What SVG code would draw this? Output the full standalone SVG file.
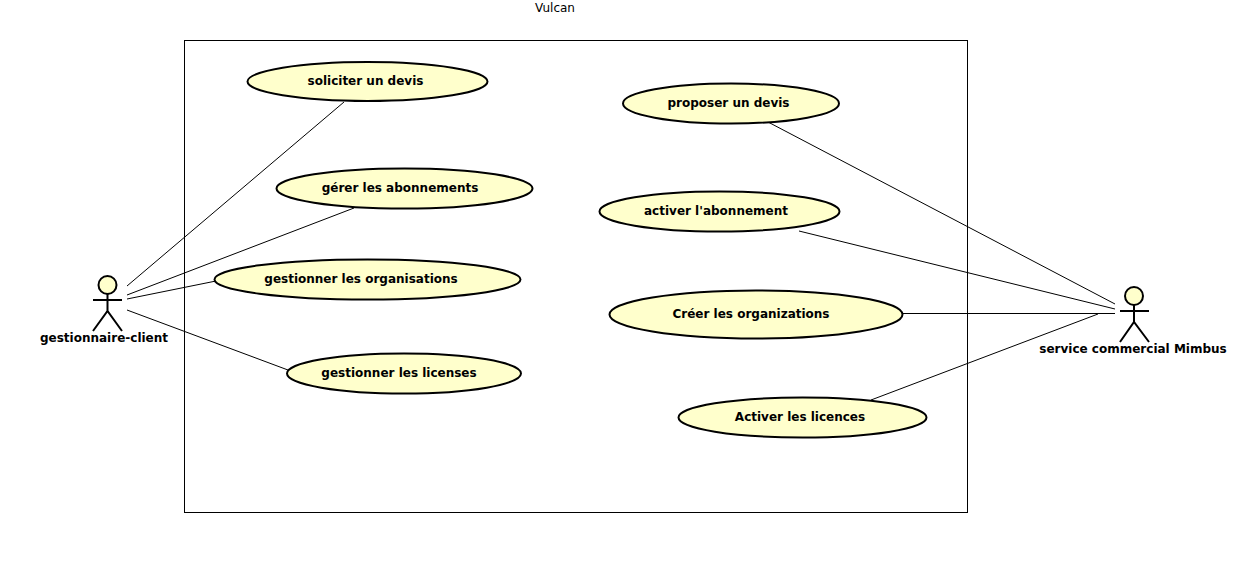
<svg xmlns="http://www.w3.org/2000/svg" width="1238" height="580" viewBox="0 0 1238 580">
<style>
text{font-family:"DejaVu Sans",sans-serif;font-size:12px;font-weight:bold;fill:#000;text-anchor:middle}
.uc{fill:#ffffcc;stroke:#000;stroke-width:2}
.head{fill:#ffffcc;stroke:#000;stroke-width:2}
.stick{fill:none;stroke:#000;stroke-width:2}
.c{stroke:#000;stroke-width:1;fill:none}
</style>
<rect width="1238" height="580" fill="#fff"/>
<g id="system">
<rect x="184.500" y="40.500" width="783" height="472" fill="#fff" stroke="#000" stroke-width="1"/>
<text x="555" y="12" style="font-weight:normal">Vulcan</text>
</g>
<g id="connectors">
<line class="c" x1="127" y1="286" x2="344" y2="102"/>
<line class="c" x1="127" y1="295" x2="354" y2="208"/>
<line class="c" x1="127" y1="299" x2="216" y2="281"/>
<line class="c" x1="127" y1="310" x2="288" y2="370"/>
<line class="c" x1="768" y1="122" x2="1115" y2="304"/>
<line class="c" x1="799" y1="231" x2="1115" y2="309"/>
<line class="c" x1="902" y1="313.500" x2="1115" y2="313.500"/>
<line class="c" x1="871" y1="400" x2="1098" y2="314"/>
</g>
<g id="actor-client">
<circle class="head" cx="107.500" cy="285" r="9"/>
<path class="stick" d="M107.500 294V311M93 300H122M93 331L107.500 311L122 331"/>
<text x="104" y="342">gestionnaire-client</text>
</g>
<g id="actor-commercial">
<circle class="head" cx="1134" cy="296" r="9"/>
<path class="stick" d="M1134 305V322M1120 311H1149M1120 342L1134 322L1149 342"/>
<text x="1133" y="353">service commercial Mimbus</text>
</g>
<g id="uc-solliciter"><ellipse class="uc" cx="367.500" cy="81.500" rx="120" ry="19.500"/><text x="365.500" y="85">soliciter un devis</text></g>
<g id="uc-gerer"><ellipse class="uc" cx="404.500" cy="188.500" rx="128" ry="20"/><text x="400" y="192">gérer les abonnements</text></g>
<g id="uc-organisations"><ellipse class="uc" cx="367.500" cy="279.500" rx="153" ry="20"/><text x="361" y="283">gestionner les organisations</text></g>
<g id="uc-licenses"><ellipse class="uc" cx="404" cy="373.500" rx="117" ry="20"/><text x="399" y="377">gestionner les licenses</text></g>
<g id="uc-proposer"><ellipse class="uc" cx="731" cy="103.500" rx="108" ry="20"/><text x="728.500" y="107">proposer un devis</text></g>
<g id="uc-activer"><ellipse class="uc" cx="719.500" cy="211.500" rx="120" ry="20"/><text x="716" y="215">activer l'abonnement</text></g>
<g id="uc-creer"><ellipse class="uc" cx="756" cy="314.500" rx="146.500" ry="24"/><text x="751" y="318">Créer les organizations</text></g>
<g id="uc-licences"><ellipse class="uc" cx="802.500" cy="417.500" rx="124" ry="20"/><text x="800" y="421">Activer les licences</text></g>
</svg>
